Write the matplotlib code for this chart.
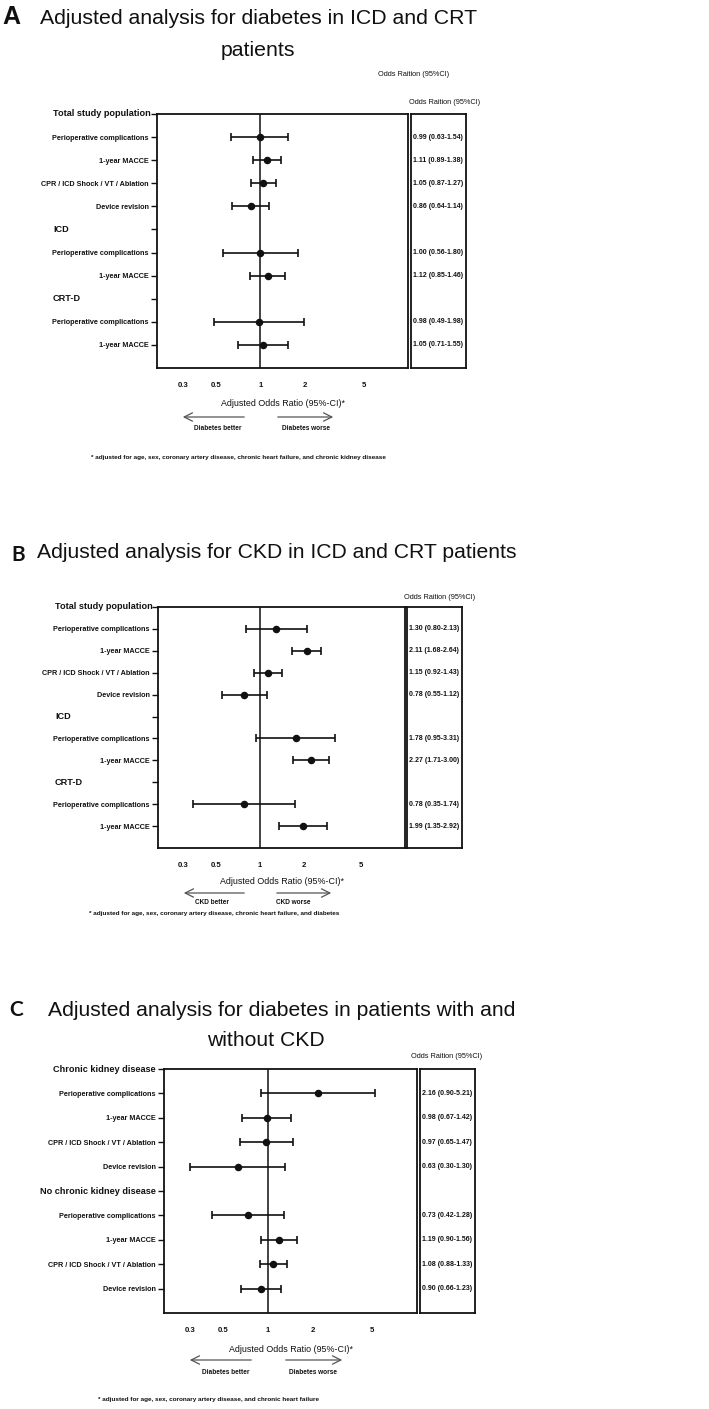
import matplotlib.pyplot as plt
from matplotlib.patches import FancyArrowPatch
from matplotlib.ticker import NullLocator
import numpy as np

W, H = 709, 1409
SANS = ['Liberation Sans', 'DejaVu Sans']
LETTER = ['Lato', 'DejaVu Sans']
INK = '#111111'

# Panel A: diabetes in ICD and CRT patients
labels_a = ['Total study population', 'Perioperative complications', '1-year MACCE',
            'CPR / ICD Shock / VT / Ablation', 'Device revision', 'ICD',
            'Perioperative complications', '1-year MACCE', 'CRT-D',
            'Perioperative complications', '1-year MACCE']
header_a = [True, False, False, False, False, True, False, False, True, False, False]
or_a = [np.nan, 0.99, 1.11, 1.05, 0.86, np.nan, 1.00, 1.12, np.nan, 0.98, 1.05]
lo_a = [np.nan, 0.63, 0.89, 0.87, 0.64, np.nan, 0.56, 0.85, np.nan, 0.49, 0.71]
hi_a = [np.nan, 1.54, 1.38, 1.27, 1.14, np.nan, 1.80, 1.46, np.nan, 1.98, 1.55]

# Panel B: CKD in ICD and CRT patients
labels_b = labels_a
header_b = header_a
or_b = [np.nan, 1.30, 2.11, 1.15, 0.78, np.nan, 1.78, 2.27, np.nan, 0.78, 1.99]
lo_b = [np.nan, 0.80, 1.68, 0.92, 0.55, np.nan, 0.95, 1.71, np.nan, 0.35, 1.35]
hi_b = [np.nan, 2.13, 2.64, 1.43, 1.12, np.nan, 3.31, 3.00, np.nan, 1.74, 2.92]

# Panel C: diabetes with / without CKD
labels_c = ['Chronic kidney disease', 'Perioperative complications', '1-year MACCE',
            'CPR / ICD Shock / VT / Ablation', 'Device revision', 'No chronic kidney disease',
            'Perioperative complications', '1-year MACCE',
            'CPR / ICD Shock / VT / Ablation', 'Device revision']
header_c = [True, False, False, False, False, True, False, False, False, False]
or_c = [np.nan, 2.16, 0.98, 0.97, 0.63, np.nan, 0.73, 1.19, 1.08, 0.90]
lo_c = [np.nan, 0.90, 0.67, 0.65, 0.30, np.nan, 0.42, 0.90, 0.88, 0.66]
hi_c = [np.nan, 5.21, 1.42, 1.47, 1.30, np.nan, 1.28, 1.56, 1.33, 1.23]

xticks = [0.3, 0.5, 1, 2, 5]
xtick_labels = ['0.3', '0.5', '1', '2', '5']


def fx(x):
    return x / W


def fy(y):
    return 1 - y / H


fig = plt.figure(figsize=(W / 100, H / 100), dpi=100)


def draw_panel(labels, header, ors, los, his, left, right, top, bottom,
               box_l, box_r, header_x, header_ha, nrows):
    ax = fig.add_axes([fx(left), fy(bottom), (right - left) / W, (bottom - top) / H])
    ax.set_xscale('log')
    ax.set_xlim(0.2, 10)
    ax.set_ylim(nrows, 0)
    ax.set_xticks(xticks)
    ax.set_xticklabels(xtick_labels, fontfamily=SANS, fontweight='bold')
    ax.xaxis.set_minor_locator(NullLocator())
    ax.tick_params(axis='x', length=0, pad=10, labelsize=5.6, colors=INK)
    ypos = np.arange(len(labels))
    ax.set_yticks(ypos)
    ax.set_yticklabels(['' if h else l for l, h in zip(labels, header)],
                       fontfamily=SANS, fontweight='bold')
    ax.tick_params(axis='y', length=4, width=1, pad=2, labelsize=5.2, colors=INK)
    for s in ax.spines.values():
        s.set_linewidth(1.3)
        s.set_color(INK)
    ax.axvline(1, color=INK, lw=1.1, zorder=1)
    o = np.array(ors)
    ax.errorbar(o, ypos, xerr=[o - np.array(los), np.array(his) - o], fmt='o',
                color=INK, ms=4.4, capsize=3.2, elinewidth=1.2, capthick=1.2, zorder=3)
    hx = (header_x - left) / (right - left)
    for y, (l, h) in enumerate(zip(labels, header)):
        if h:
            ax.text(hx, y, l, transform=ax.get_yaxis_transform(), ha=header_ha,
                    va='center', fontsize=6.6, fontweight='bold', family=SANS, color=INK)

    tb = fig.add_axes([fx(box_l), fy(bottom), (box_r - box_l) / W, (bottom - top) / H])
    tb.set_ylim(nrows, 0)
    tb.set_xlim(0, 1)
    tb.set_xticks([])
    tb.set_yticks([])
    for s in tb.spines.values():
        s.set_linewidth(1.3)
        s.set_color(INK)
    for y, (v, a, b) in enumerate(zip(ors, los, his)):
        if not np.isnan(v):
            tb.text(0.04, y, f'{v:.2f} ({a:.2f}-{b:.2f})', va='center', ha='left',
                    fontsize=5.0, fontweight='bold', family=SANS, color=INK)
    return ax


def side_text(x, y, s, size, weight='normal', ha='center', family=SANS):
    fig.text(fx(x), fy(y), s, ha=ha, va='center', fontsize=size, fontweight=weight,
             family=family, color=INK)


def arrows(y, l0, l1, r0, r1):
    for a, b in [(l0, l1), (r0, r1)]:
        fig.patches.append(FancyArrowPatch(
            (fx(a), fy(y)), (fx(b), fy(y)), transform=fig.transFigure,
            arrowstyle='->,head_length=6,head_width=3', color='#555555', lw=0.9))


# ---- Panel A
side_text(11, 17, 'A', 18, 'bold')
side_text(259, 18, 'Adjusted analysis for diabetes in ICD and CRT', 15.3)
side_text(258, 50, 'patients', 15.3)
side_text(414, 74, 'Odds Raition (95%CI)', 5.3)
side_text(445, 103, 'Odds Raition (95%CI)', 5.3)
draw_panel(labels_a, header_a, or_a, lo_a, hi_a, 157, 408, 114, 368, 411, 466, 53, 'left', 11)
side_text(283, 404, 'Adjusted Odds Ratio (95%-CI)*', 6.4)
arrows(417, 247, 180, 275, 336)
side_text(218, 428, 'Diabetes better', 4.7, 'bold')
side_text(306, 428, 'Diabetes worse', 4.7, 'bold')
side_text(238, 458, '* adjusted for age, sex, coronary artery disease, chronic heart failure, '
          'and chronic kidney disease', 4.6, 'bold')

# ---- Panel B
side_text(18, 555, 'B', 15, 'bold', family=LETTER)
side_text(277, 553, 'Adjusted analysis for CKD in ICD and CRT patients', 15.2)
side_text(440, 597, 'Odds Raition (95%CI)', 5.3)
draw_panel(labels_b, header_b, or_b, lo_b, hi_b, 158, 405, 607, 848, 407, 462, 55, 'left', 11)
side_text(282, 882, 'Adjusted Odds Ratio (95%-CI)*', 6.4)
arrows(893, 247, 181, 274, 334)
side_text(212, 903, 'CKD better', 4.7, 'bold')
side_text(293, 903, 'CKD worse', 4.7, 'bold')
side_text(214, 914, '* adjusted for age, sex, coronary artery disease, chronic heart failure, '
          'and diabetes', 4.6, 'bold')

# ---- Panel C
side_text(16, 1010, 'C', 15, 'bold', family=LETTER)
side_text(282, 1010, 'Adjusted analysis for diabetes in patients with and', 15.2)
side_text(266, 1040, 'without CKD', 15.2)
side_text(447, 1057, 'Odds Raition (95%CI)', 5.3)
draw_panel(labels_c, header_c, or_c, lo_c, hi_c, 164, 417, 1069, 1313, 420, 475, 156, 'right', 10)
side_text(291, 1350, 'Adjusted Odds Ratio (95%-CI)*', 6.4)
arrows(1360, 254, 187, 283, 345)
side_text(226, 1372, 'Diabetes better', 4.7, 'bold')
side_text(313, 1372, 'Diabetes worse', 4.7, 'bold')
side_text(208, 1400, '* adjusted for age, sex, coronary artery disease, and chronic heart failure',
          4.6, 'bold')

fig.savefig('out.png', dpi=100)
